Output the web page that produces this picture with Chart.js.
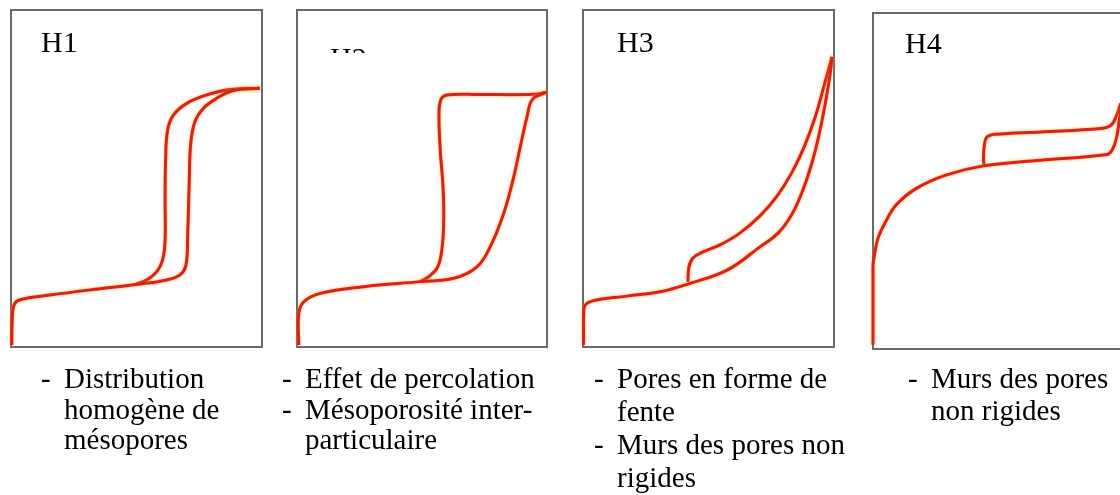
<!DOCTYPE html>
<html>
<head>
<meta charset="utf-8">
<script src="https://cdn.jsdelivr.net/npm/chart.js@4.4.0/dist/chart.umd.min.js"></script>
<style>
body { margin:0; width:1120px; height:495px; overflow:hidden; background:#fff; position:relative; }
canvas { position:absolute; top:0; }
</style>
</head>
<body>
<script>
// boucles d'hysteresis : P/P0 (0-1) et volume adsorbe (0-100, unites arbitraires)
var h1AdsP = [0.003, 0.005, 0.012, 0.036, 0.155, 0.355, 0.514, 0.62, 0.673, 0.697, 0.704, 0.71, 0.716, 0.733, 0.766, 0.82, 0.886, 0.992];
var h1AdsV = [0.6, 8, 12.5, 14, 15.4, 17.3, 18.7, 19.9, 21.4, 24.3, 33.7, 48.5, 60.4, 66.9, 70.8, 73.8, 76.1, 76.8];
var h1DesP = [0.992, 0.873, 0.78, 0.7, 0.647, 0.624, 0.616, 0.614, 0.614, 0.604, 0.58, 0.54, 0.5];
var h1DesV = [76.8, 76.4, 74.8, 72.3, 68.8, 64.4, 55.5, 43.6, 31.8, 25.8, 22.3, 19.9, 18.7];

var h2AdsP = [0.007, 0.007, 0.027, 0.093, 0.267, 0.493, 0.627, 0.72, 0.773, 0.827, 0.867, 0.893, 0.92, 0.94, 0.98, 1.0];
var h2AdsV = [0.6, 10, 13.4, 15.9, 17.9, 19.4, 20.4, 23.8, 29.8, 39.7, 50.5, 59.4, 68.3, 73.3, 75.1, 75.6];
var h2DesP = [1.0, 0.947, 0.733, 0.6, 0.576, 0.568, 0.573, 0.584, 0.587, 0.581, 0.563, 0.527, 0.493];
var h2DesV = [75.6, 75.0, 74.9, 74.8, 73.5, 69.3, 58.5, 47.6, 38.7, 29.8, 23.8, 20.9, 19.4];

var h3AdsP = [0.002, 0.004, 0.035, 0.174, 0.307, 0.426, 0.574, 0.705, 0.777, 0.833, 0.876, 0.912, 0.94, 0.964, 0.984, 0.992];
var h3AdsV = [0.6, 11.6, 13.6, 15.1, 16.4, 18.9, 22.8, 29.7, 33.8, 39.5, 46.6, 54.6, 62.9, 71.8, 80.7, 86.1];
var h3DesP = [0.992, 0.956, 0.924, 0.884, 0.833, 0.773, 0.705, 0.625, 0.546, 0.478, 0.438, 0.422, 0.418];
var h3DesV = [86.1, 76.3, 68.0, 59.9, 51.9, 44.8, 38.9, 33.8, 30.3, 28.2, 26.4, 23.7, 19.3];

var h4AdsP = [0.0, 0.0, 0.007, 0.02, 0.047, 0.093, 0.173, 0.293, 0.44, 0.667, 0.933, 0.953, 0.971, 0.987];
var h4AdsV = [1.3, 24.5, 28.5, 33, 37.4, 42.9, 47.8, 51.8, 54.5, 56.2, 57.9, 59.2, 63.1, 71.1];
var h4DesP = [0.987, 0.971, 0.949, 0.907, 0.667, 0.487, 0.453, 0.443, 0.44, 0.443];
var h4DesV = [73.1, 69.6, 66.6, 65.6, 64.6, 63.9, 63.0, 60.2, 56.7, 54.7];

var titres = ["H1", "H2", "H3", "H4"];
var legendes = [
    [["Distribution", "homogène de", "mésopores"]],
    [["Effet de percolation"], ["Mésoporosité inter-", "particulaire"]],
    [["Pores en forme de", "fente"], ["Murs des pores non", "rigides"]],
    [["Murs des pores", "non rigides"]]
];

// mise en page (px, coordonnees de la page)
var toiles = [{x: 0, w: 280}, {x: 280, w: 280}, {x: 560, w: 300}, {x: 860, w: 270}];
var cadres = [
    {x: 11, y: 10, w: 251, h: 337},
    {x: 297, y: 10, w: 250, h: 337},
    {x: 583, y: 10, w: 251, h: 337},
    {x: 873, y: 13, w: 251, h: 336}
];
var posTitres = [{x: 41, y: 52}, {x: 330, y: 68}, {x: 617, y: 52}, {x: 905, y: 53}];
var posLegendes = [41, 282, 594, 908];
var interlignes = [30.5, 30.5, 33, 32];
var ligne1 = 388;
var hauteur = 495;
var police = '"Liberation Serif", "Times New Roman", serif';

var series = [
    [[h1AdsP, h1AdsV], [h1DesP, h1DesV]],
    [[h2AdsP, h2AdsV], [h2DesP, h2DesV]],
    [[h3AdsP, h3AdsV], [h3DesP, h3DesV]],
    [[h4AdsP, h4AdsV], [h4DesP, h4DesV]]
];

function points(p, v) {
    var res = [];
    for (var i = 0; i < p.length; i++) res.push({x: p[i], y: v[i]});
    return res;
}

// cadre gris + titre + legende, dessines sur la toile du graphe
function habillage(i) {
    var ox = toiles[i].x;
    return {
        id: 'habillage' + i,
        beforeDatasetsDraw: function (chart) {
            var a = chart.chartArea, c = chart.ctx;
            c.save();
            c.strokeStyle = '#6a6a6a';
            c.lineWidth = 2;
            c.strokeRect(a.left, a.top, a.right - a.left, a.bottom - a.top);

            c.fillStyle = '#000';
            c.textBaseline = 'alphabetic';
            c.textAlign = 'left';
            c.font = '30px ' + police;
            if (i === 1) {
                // H2 est coupe dans l'original
                c.save();
                c.beginPath();
                c.rect(0, 0, chart.width, 53);
                c.clip();
                c.fillText(titres[i], posTitres[i].x - ox, posTitres[i].y);
                c.restore();
            } else {
                c.fillText(titres[i], posTitres[i].x - ox, posTitres[i].y);
            }

            c.font = '29px ' + police;
            var y = ligne1, x = posLegendes[i] - ox;
            legendes[i].forEach(function (lignes) {
                c.fillText('-', x, y);
                lignes.forEach(function (txt) {
                    c.fillText(txt, x + 23, y);
                    y += interlignes[i];
                });
            });
            c.restore();

            c.save();
            c.shadowColor = 'rgba(255,150,0,0.7)';
            c.shadowBlur = 3;
        },
        afterDatasetsDraw: function (chart) {
            chart.ctx.restore();
        }
    };
}

cadres.forEach(function (b, i) {
    var t = toiles[i];
    var cv = document.createElement('canvas');
    cv.width = t.w;
    cv.height = hauteur;
    cv.style.left = t.x + 'px';
    document.body.appendChild(cv);

    new Chart(cv.getContext('2d'), {
        type: 'scatter',
        data: {
            datasets: series[i].map(function (s) {
                return {
                    data: points(s[0], s[1]),
                    showLine: true,
                    borderColor: '#dc2119',
                    borderWidth: 3,
                    tension: 0.4,
                    pointRadius: 0,
                    fill: false,
                    clip: false
                };
            })
        },
        options: {
            responsive: false,
            animation: false,
            devicePixelRatio: 1,
            layout: {
                padding: {
                    left: b.x - t.x,
                    right: t.x + t.w - b.x - b.w,
                    top: b.y,
                    bottom: hauteur - b.y - b.h
                }
            },
            plugins: {legend: {display: false}, tooltip: {enabled: false}},
            scales: {
                x: {type: 'linear', display: false, min: 0, max: 1},
                y: {type: 'linear', display: false, min: 0, max: 100}
            }
        },
        plugins: [habillage(i)]
    });
});
</script>
</body>
</html>
